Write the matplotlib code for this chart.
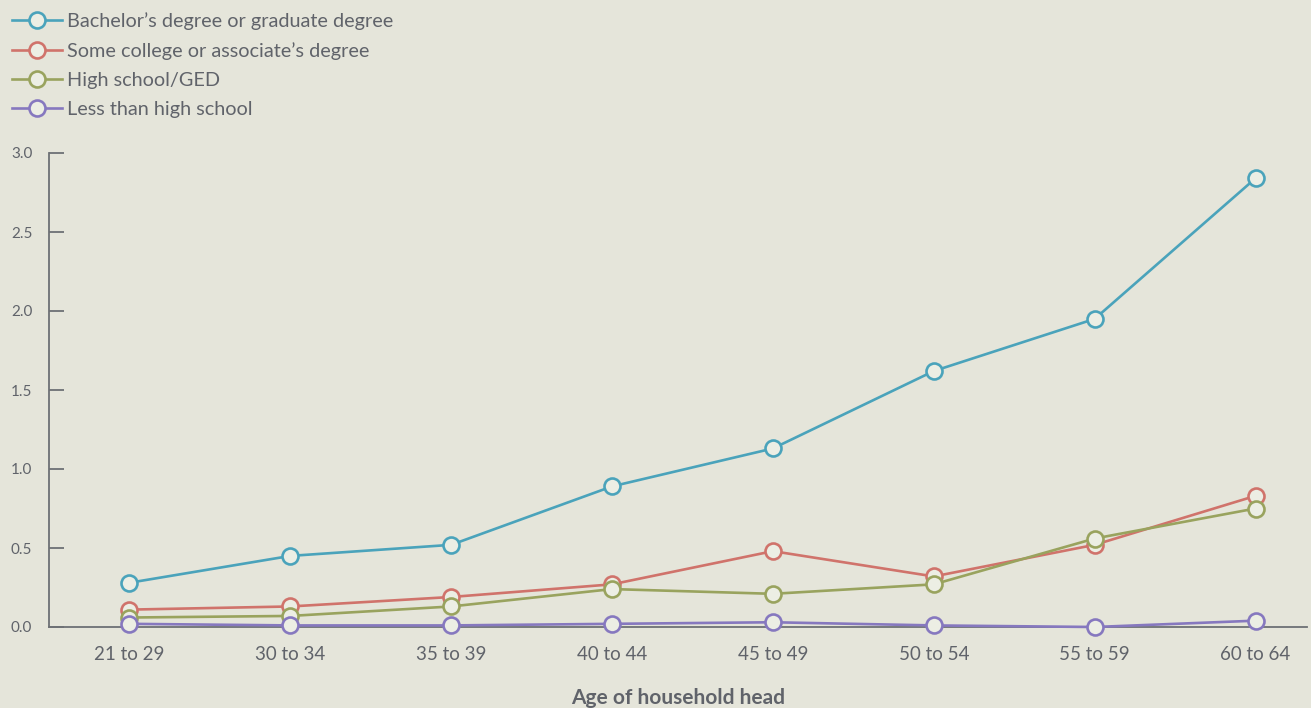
import matplotlib
matplotlib.use("Agg")
import matplotlib.pyplot as plt
from matplotlib.lines import Line2D

categories = ["21 to 29", "30 to 34", "35 to 39", "40 to 44", "45 to 49", "50 to 54", "55 to 59", "60 to 64"]
bachelor = [0.28, 0.45, 0.52, 0.89, 1.13, 1.62, 1.95, 2.84]
some_college = [0.11, 0.13, 0.19, 0.27, 0.48, 0.32, 0.52, 0.83]
high_school = [0.06, 0.07, 0.13, 0.24, 0.21, 0.27, 0.56, 0.75]
less_hs = [0.02, 0.01, 0.01, 0.02, 0.03, 0.01, 0.00, 0.04]
series_names = ["Bachelor\u2019s degree or graduate degree", "Some college or associate\u2019s degree",
                "High school/GED", "Less than high school"]
yticks = [0.0, 0.5, 1.0, 1.5, 2.0, 2.5, 3.0]

colors = ["#4aa3bb", "#d0736b", "#99a35e", "#8678bf"]
bg = "#e5e5da"
txt = "#60636a"
axis_col = "#6d7075"

plt.rcParams['font.family'] = ['Lato', 'DejaVu Sans']

fig = plt.figure(figsize=(13.11, 7.08), dpi=100, facecolor=bg)
ax = fig.add_axes([49/1311, 81/708, (1307-49)/1311, (627-153)/708])
ax.set_facecolor(bg)

x = list(range(len(categories)))
all_series = [bachelor, some_college, high_school, less_hs]
for vals, col, name in zip(all_series, colors, series_names):
    ax.plot(x, vals, color=col, lw=1.9, marker='o', ms=11.5, mfc="#eceee4",
            mec=col, mew=1.9, clip_on=False, zorder=3)

ax.set_xlim(-0.5, 7.32)
ax.set_ylim(0, 3.0)
ax.set_yticks(yticks)
ax.set_yticklabels([f"{v:.1f}" for v in yticks])
ax.set_xticks(x)
ax.set_xticklabels(categories)

for s in ["top", "right"]:
    ax.spines[s].set_visible(False)
for s in ["left", "bottom"]:
    ax.spines[s].set_color(axis_col)
    ax.spines[s].set_linewidth(1.3)

ax.tick_params(axis='y', direction='in', length=11, width=1.3, color=axis_col,
               labelcolor=txt, labelsize=11, pad=12)
ax.tick_params(axis='x', length=0, labelcolor=txt, labelsize=13.5, pad=14)

ax.set_xlabel("Age of household head", fontsize=15, fontweight='bold', color=txt, labelpad=18)

handles = [Line2D([0], [0], color=c, lw=1.9, marker='o', ms=11.5, mfc="#eceee4", mec=c, mew=1.9)
           for c in colors]
leg = fig.legend(handles, series_names, loc='upper left', bbox_to_anchor=(3.5/1311, 1 - 3.5/708),
                 frameon=False, fontsize=14.3, handlelength=2.5, handletextpad=0.25,
                 labelspacing=0.6, borderaxespad=0.05, labelcolor=txt)

fig.savefig("out.png", dpi=100, facecolor=bg)
